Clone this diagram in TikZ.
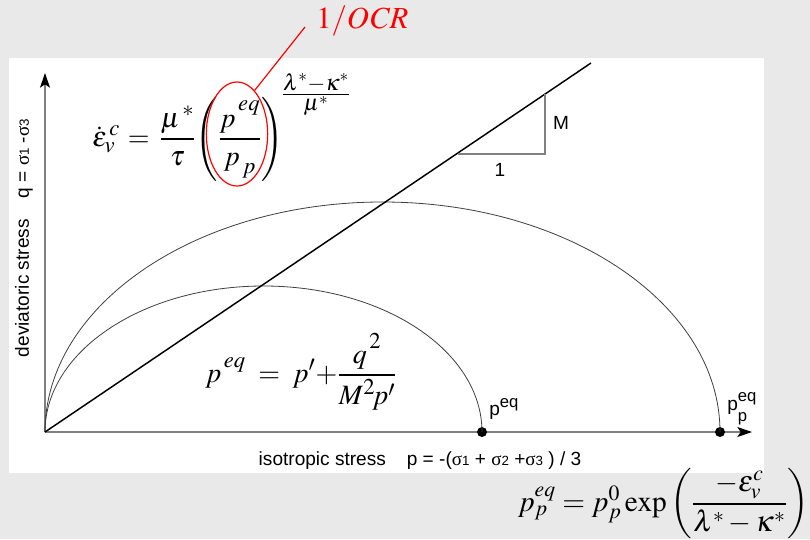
\documentclass[tikz,border=0pt]{standalone}
\usepackage{amsmath}
\usepackage{mathptmx}
\usepackage{fontspec}
\setsansfont{Liberation Sans}
\newfontfamily\grk{Liberation Serif}
\DeclareMathSizes{21}{21}{17}{13}
\usetikzlibrary{arrows.meta,shapes.geometric,calc}
\definecolor{bggray}{HTML}{E9E9E9}
\definecolor{axisgray}{HTML}{808080}
\definecolor{curvegray}{HTML}{404040}
\newcommand{\sg}[1]{{\grk σ}{\fontsize{10}{12}\selectfont #1}}
\newcommand{\hi}[2]{\raisebox{#1}{$\scriptstyle #2$}}
\begin{document}
\begin{tikzpicture}[x=0.75pt,y=-0.75pt,
  axis/.style={draw=axisgray,line width=1.1pt,-{Stealth[color=black,length=11pt,width=7.5pt,inset=2.5pt]}},
  curve/.style={draw=curvegray,line width=0.6pt},
  tri/.style={draw=axisgray,line width=1.1pt},
  dot/.style={circle,fill=black,inner sep=0pt,minimum size=7.5pt},
  lbl/.style={font=\sffamily\fontsize{14.3}{16}\selectfont,inner sep=0pt},
  eqn/.style={font=\fontsize{21}{25}\selectfont,inner sep=0pt}]
\fill[bggray] (0,0) rectangle (810,539);
\useasboundingbox (0,0) rectangle (810,539);
\fill[white] (9,58) rectangle (764,473);
% axes
\coordinate (O) at (45,432);
\coordinate (xend) at (752,432);
\coordinate (yend) at (45,73);
\coordinate (cslend) at (591,63);
\draw[axis] (O) -- (xend);
\draw[axis] (O) -- (yend);
% points
\node[dot] (peq) at (482,432) {};
\node[dot] (ppeq) at (720,432) {};
% yield ellipses
\draw[curve] (O) arc[start angle=180,end angle=0,x radius=163.875pt,y radius=109.5pt];
\draw[curve] (O) arc[start angle=180,end angle=0,x radius=253.125pt,y radius=172.5pt];
% critical state line
\draw[line width=1.1pt] (O) -- (cslend);
% slope triangle
\coordinate (ta) at (458,154);
\coordinate (tb) at (545,154);
\coordinate (tc) at (545,94);
\draw[tri] (ta) -- (tb) -- (tc);
\node[lbl] (mlab) at (561,123) {M};
\node[lbl] (onelab) at (500,170) {1};
% point labels
\node[lbl,anchor=base west] (peqlab) at (489,415) {p\raisebox{6pt}{\fontsize{12.5}{14}\selectfont eq}};
\node[lbl,anchor=base west] (ppeqlab) at (727,410) {p\rlap{\raisebox{6.4pt}{\fontsize{12.5}{14}\selectfont eq}}\raisebox{-8.6pt}{\fontsize{12.5}{14}\selectfont p}};
% axis labels
\node[lbl,rotate=90] (ylab) at (24,238) {deviatoric stress\hspace{1.1em}q = \sg{1} -\sg{3}};
\node[lbl] (xlab) at (420,461) {isotropic stress\hspace{1.1em}p = -(\sg{1} + \sg{2} +\sg{3} ) / 3};
% formulas
\node[eqn,anchor=base west] (creep) at (92,146) {$\dot{\varepsilon}_v^{\,c} \mskip1mu=\mskip2mu \dfrac{\mu^{\,*}}{\tau}\!\left(\dfrac{p^{\hi{5pt}{\,eq}}}{p_{\hi{-3pt}{\,p}}}\right)^{\!\raisebox{3.5pt}{$\frac{\lambda^*-\kappa^*}{\mu^*}$}}$};
\node[eqn,anchor=base west] (peqdef) at (205,382) {$p^{\hi{3pt}{\,eq}} \;=\; p\mathrm{'}{+}\dfrac{q^{\hi{3pt}{\,2}}}{M^{\hi{2pt}{2}}\!p\mathrm{'}}$};
\node[eqn,anchor=east,font=\fontsize{22}{26}\selectfont] (ppdef) at (809,504) {$p_p^{eq} = p_p^{0}\exp\left(\dfrac{-\varepsilon_v^c}{\lambda^*-\kappa^*}\right)$};
% OCR annotation
\node[ellipse,draw=red,line width=0.9pt,minimum width=46pt,minimum height=78pt,inner sep=0pt] (ocr) at (237,134) {};
\node[red,anchor=west,inner sep=0pt,font=\fontsize{23}{26}\selectfont] (ocrlab) at (316,21) {$1/\mathit{OCR}$};
\draw[red,line width=0.9pt] (ocr.68) -- ($(ocrlab.west)+(-11,6)$);
\end{tikzpicture}
\end{document}
